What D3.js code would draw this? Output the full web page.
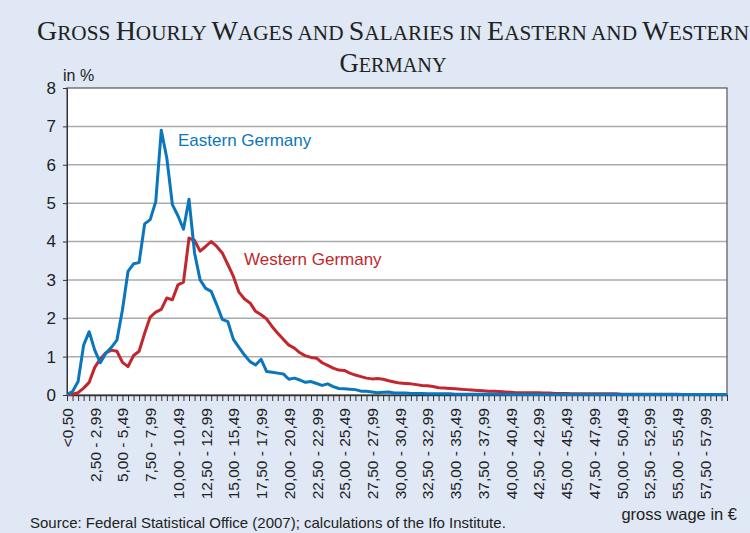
<!DOCTYPE html>
<html><head><meta charset="utf-8">
<script src="https://cdn.jsdelivr.net/npm/d3@7"></script>
<style>
html,body{margin:0;padding:0;background:#dfe8f4;}
svg{display:block;}
</style></head>
<body>
<svg id="chart" width="750" height="533"></svg>
<script>
// ---- data ----
const title1 = "Gross Hourly Wages and Salaries in Eastern and Western";
const title2 = "Germany";
const yTicks = [0,1,2,3,4,5,6,7,8];
const tickLabels = ["<0,50","2,50 - 2,99","5,00 - 5,49","7,50 - 7,99","10,00 - 10,49","12,50 - 12,99",
  "15,00 - 15,49","17,50 - 17,99","20,00 - 20,49","22,50 - 22,99","25,00 - 25,49","27,50 - 27,99",
  "30,00 - 30,49","32,50 - 32,99","35,00 - 35,49","37,50 - 37,99","40,00 - 40,49","42,50 - 42,99",
  "45,00 - 45,49","47,50 - 47,99","50,00 - 50,49","52,50 - 52,99","55,00 - 55,49","57,50 - 57,99"];
const eastern = [0.02,0.09,0.35,1.3,1.65,1.17,0.84,1.09,1.24,1.43,
  2.22,3.22,3.42,3.45,4.46,4.57,5.04,6.9,6.17,4.96,
  4.67,4.32,5.1,3.7,3.0,2.78,2.7,2.35,1.97,1.91,
  1.45,1.24,1.04,0.87,0.78,0.93,0.61,0.59,0.57,0.55,
  0.41,0.44,0.39,0.33,0.35,0.3,0.25,0.29,0.22,0.17,
  0.16,0.15,0.14,0.1,0.1,0.08,0.06,0.07,0.08,0.05,
  0.05,0.05,0.04,0.04,0.04,0.03,0.03,0.03,0.03,0.03,
  0.02,0.02,0.02,0.02,0.02,0.02,0.02,0.02,0.02,0.02,
  0.01,0.01,0.01,0.01,0.01,0.01,0.01,0.01,0.01,0.01,
  0.01,0.01,0.01,0.01,0.01,0.01,0.01,0.01,0.01,0.01,
  0.01,0.01,0.01,0.01,0.01,0.01,0.01,0.01,0.01,0.01,
  0.01,0.01,0.01,0.01,0.01,0.01,0.01,0.01,0.01,0.01];
const western = [0.01,0.02,0.06,0.18,0.33,0.72,0.94,1.1,1.17,1.14,
  0.85,0.74,1.03,1.14,1.61,2.03,2.16,2.23,2.53,2.48,
  2.87,2.94,4.09,4.03,3.75,3.87,4.0,3.87,3.7,3.4,
  3.09,2.68,2.5,2.4,2.18,2.09,1.98,1.78,1.61,1.45,
  1.3,1.22,1.1,1.02,0.98,0.96,0.84,0.77,0.7,0.65,
  0.64,0.57,0.52,0.48,0.44,0.42,0.43,0.41,0.37,0.34,
  0.31,0.3,0.29,0.27,0.25,0.24,0.22,0.19,0.18,0.17,
  0.16,0.15,0.14,0.13,0.12,0.11,0.1,0.1,0.09,0.08,
  0.07,0.06,0.06,0.06,0.06,0.06,0.05,0.05,0.04,0.04,
  0.04,0.03,0.03,0.03,0.03,0.03,0.03,0.03,0.03,0.03,
  0.02,0.02,0.02,0.02,0.02,0.02,0.02,0.02,0.02,0.02,
  0.02,0.01,0.01,0.01,0.01,0.01,0.01,0.01,0.01,0.01];
const fmt = v => v.toFixed(2).replace(".", ",");
const categories = eastern.map((_, i) => i === 0 ? "<0,50" : fmt(i*0.5) + " - " + fmt(i*0.5 + 0.49));

// ---- layout ----
const svg = d3.select("#chart");
const L = 67, R = 727, T = 88, B = 395;
const x = d3.scalePoint().domain(categories).range([L, R]);
const y = d3.scaleLinear().domain([0, 8]).range([B, T]);
const sans = "Arial, Liberation Sans, sans-serif";

svg.append("rect").attr("width", 750).attr("height", 533).attr("fill", "#dfe8f4");
svg.append("rect").attr("x", L).attr("y", T).attr("width", R - L).attr("height", B - T).attr("fill", "#fff");

// title (small caps: original capitals drawn larger)
function smallCaps(textSel, str, big, small) {
  str.split(/(\s+)/).forEach(word => {
    if (/^\s+$/.test(word)) { textSel.append("tspan").attr("font-size", small).text(" "); return; }
    for (const ch of word) {
      const isCap = ch === ch.toUpperCase();
      textSel.append("tspan").attr("font-size", isCap ? big : small).text(ch.toUpperCase());
    }
  });
}
const t1 = svg.append("text").attr("x", 393).attr("y", 40).attr("text-anchor", "middle")
  .attr("font-family", "Liberation Serif, Times New Roman, serif").attr("fill", "#222")
  .attr("textLength", 712).attr("lengthAdjust", "spacingAndGlyphs");
smallCaps(t1, title1, 27, 20.5);
const t2 = svg.append("text").attr("x", 393).attr("y", 72).attr("text-anchor", "middle")
  .attr("font-family", "Liberation Serif, Times New Roman, serif").attr("fill", "#222")
  .attr("textLength", 107).attr("lengthAdjust", "spacingAndGlyphs");
smallCaps(t2, title2, 27, 20.5);

// gridlines
svg.append("g").selectAll("line").data(yTicks.filter(d => d > 0 && d < 8)).join("line")
  .attr("x1", L).attr("x2", R).attr("y1", d => y(d)).attr("y2", d => y(d))
  .attr("stroke", "#a9abae").attr("stroke-width", 1.5);

// border
svg.append("rect").attr("x", L).attr("y", T).attr("width", R - L).attr("height", B - T)
  .attr("fill", "none").attr("stroke", "#555").attr("stroke-width", 1.2);

// y axis
const yAxis = svg.append("g").attr("transform", `translate(${L},0)`)
  .call(d3.axisLeft(y).tickValues(yTicks).tickSize(4).tickSizeOuter(0).tickPadding(7).tickFormat(d3.format("d")));
yAxis.select(".domain").attr("stroke", "#333");
yAxis.selectAll(".tick line").attr("stroke", "#333");
yAxis.selectAll("text").attr("font-family", sans).attr("font-size", 17).attr("fill", "#222");

// x axis
const xAxis = svg.append("g").attr("transform", `translate(0,${B})`)
  .call(d3.axisBottom(x).tickSize(6).tickSizeOuter(0).tickFormat(d => tickLabels.includes(d) ? d : ""));
xAxis.select(".domain").attr("stroke", "#333").attr("stroke-width", 1.5);
xAxis.selectAll(".tick line").attr("stroke", "#333");
xAxis.selectAll("text")
  .attr("font-family", sans).attr("font-size", 15.5).attr("fill", "#222")
  .attr("text-anchor", "end").attr("transform", "rotate(-90)")
  .attr("x", -13).attr("y", 0).attr("dy", "0.35em");

// lines
const line = d3.line().x((d, i) => x(categories[i])).y(d => y(d));
svg.append("path").datum(western).attr("d", line).attr("fill", "none")
  .attr("stroke", "#c1272d").attr("stroke-width", 3).attr("stroke-linejoin", "round");
svg.append("path").datum(eastern).attr("d", line).attr("fill", "none")
  .attr("stroke", "#0a76bd").attr("stroke-width", 3).attr("stroke-linejoin", "round");

// series labels
svg.append("text").attr("x", 178).attr("y", 146).text("Eastern Germany")
  .attr("font-family", sans).attr("font-size", 17).attr("fill", "#0a76bd");
svg.append("text").attr("x", 244).attr("y", 265).text("Western Germany")
  .attr("font-family", sans).attr("font-size", 17).attr("fill", "#c1272d");

// axis titles & source
svg.append("text").attr("x", 63).attr("y", 81).text("in %")
  .attr("font-family", sans).attr("font-size", 16).attr("fill", "#222");
svg.append("text").attr("x", 737).attr("y", 520).attr("text-anchor", "end").text("gross wage in €")
  .attr("font-family", sans).attr("font-size", 16.5).attr("fill", "#222");
svg.append("text").attr("x", 30).attr("y", 528).text("Source: Federal Statistical Office (2007); calculations of the Ifo Institute.")
  .attr("font-family", sans).attr("font-size", 15).attr("fill", "#222");
</script>
</body></html>
